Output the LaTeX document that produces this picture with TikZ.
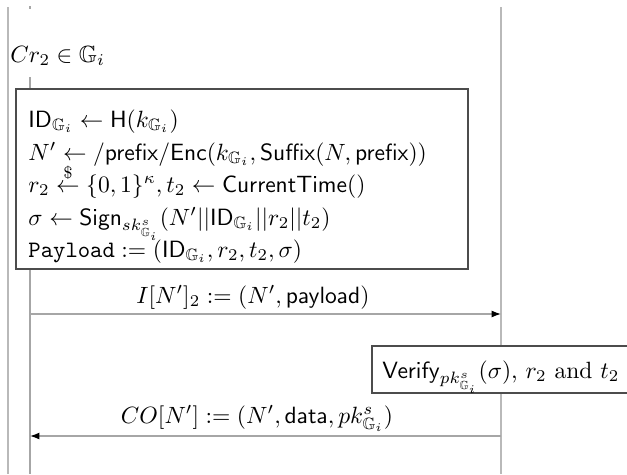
\documentclass[tikz,border=0pt]{standalone}
\usepackage{amsmath,amssymb}
\usetikzlibrary{arrows.meta}
\newcommand{\Gi}{\mathbb{G}_i}
\tikzset{
  lifeline/.style={draw=gray!55, line width=0.8pt},
  actline/.style={draw=gray!70, line width=0.6pt},
  procbox/.style={draw=black!70, fill=white, line width=0.6pt},
  msg/.style={draw=gray!70, line width=0.6pt, -{Latex[length=4pt,width=3pt,color=black]}},
  txt/.style={anchor=base west, inner sep=0pt},
  lbl/.style={anchor=base, inner sep=0pt}
}
\begin{document}
\begin{tikzpicture}[x=0.425pt,y=-0.425pt]
\useasboundingbox (0,0) rectangle (627,474);
% lifelines
\coordinate (lt) at (8,7);   \coordinate (lb) at (8,474);
\coordinate (rt) at (501,7); \coordinate (rb) at (501,474);
\draw[lifeline] (lt) -- (lb);
\draw[lifeline] (rt) -- (rb);
% activation line of the left party
\coordinate (tk1) at (30,6); \coordinate (tk2) at (30,9);
\coordinate (a1) at (30,77); \coordinate (a2) at (30,89);
\coordinate (a3) at (30,269); \coordinate (a4) at (30,474);
\draw[actline] (tk1) -- (tk2);
\draw[actline] (a1) -- (a2);
\draw[actline] (a3) -- (a4);
% party name
\node[txt] (cr) at (10,62) {$Cr_2 \in \Gi$};
% local computation box
\draw[procbox] (16,89) rectangle (468,269);
\node[txt] (l1) at (28,127) {$\mathsf{ID}_{\Gi} \leftarrow \mathsf{H}(k_{\Gi})$};
\node[txt] (l2) at (28,160) {$N' \leftarrow /\mathsf{prefix}/\mathsf{Enc}(k_{\Gi},\mathsf{Suffix}(N,\mathsf{prefix}))$};
\node[txt] (l3) at (28,192) {$r_2 \stackrel{\$}{\leftarrow} \{0,1\}^{\kappa}, t_2 \leftarrow \mathsf{CurrentTime}()$};
\node[txt] (l4) at (28,225) {$\sigma \leftarrow \mathsf{Sign}_{sk^s_{\Gi}}(N'||\mathsf{ID}_{\Gi}||r_2||t_2)$};
\node[txt] (l5) at (28,257) {$\texttt{Payload} := (\mathsf{ID}_{\Gi}, r_2, t_2, \sigma)$};
% first message
\coordinate (m1s) at (30,314); \coordinate (m1e) at (501,314);
\draw[msg] (m1s) -- (m1e);
\node[lbl] (m1l) at (253,303) {$I[N']_2 := (N',\mathsf{payload})$};
% verification box
\draw[procbox] (372,346) rectangle (640,393);
\node[txt] (vf) at (382,378) {$\mathsf{Verify}_{pk^s_{\Gi}}(\sigma)$, $r_2$ and $t_2$};
% second message
\coordinate (m2s) at (501,436); \coordinate (m2e) at (30,436);
\draw[msg] (m2s) -- (m2e);
\node[lbl] (m2l) at (257,423) {$CO[N'] := (N',\mathsf{data},pk^s_{\Gi})$};
\end{tikzpicture}
\end{document}
